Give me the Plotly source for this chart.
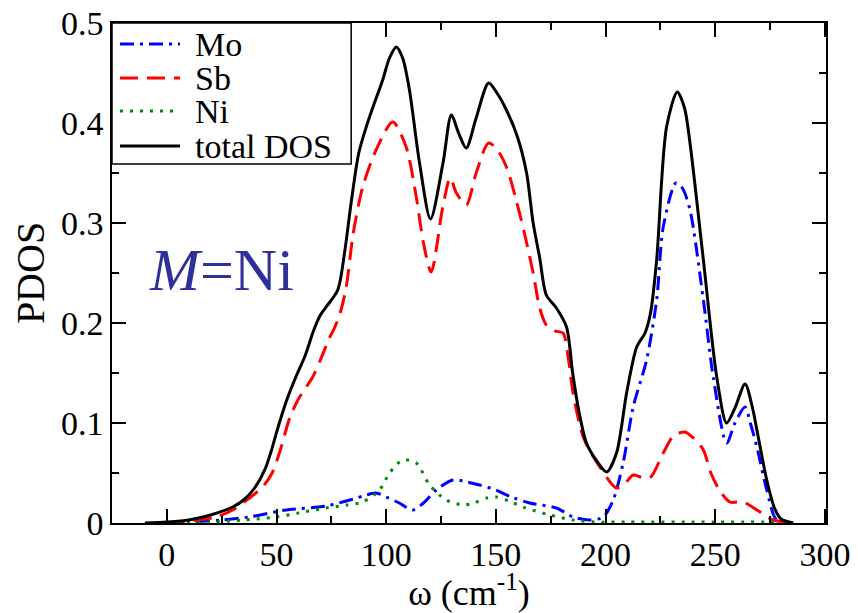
import plotly.graph_objects as go

# ---- data ----
tot_x = [-10, 0, 10, 20, 30, 35, 40, 45, 48, 51, 55, 59, 63, 67, 70, 72.6, 77.9, 81, 84, 87.5,
         90.9, 93.5, 98.4, 101.5, 104.6, 107.5, 110.6, 115.2, 120.2, 125.9, 129.7, 133, 136.5, 141, 146.7,
         150.5, 154.8, 160, 164, 167, 170, 173, 177.6, 182.2, 185, 188, 191.3, 196, 200.5, 205, 209.6, 214.2,
         218, 220.5, 223.3, 227.8, 232.7, 236, 238.5, 244.6, 250.7, 255.2, 259, 263.6, 267, 269, 273.5,
         277, 280, 285.6]
tot_y = [0, 0.001, 0.003, 0.008, 0.016, 0.023, 0.035, 0.055, 0.075, 0.098, 0.125, 0.147, 0.167, 0.193,
         0.208, 0.216, 0.233, 0.27, 0.32, 0.37, 0.396, 0.413, 0.443, 0.465, 0.476, 0.465, 0.433, 0.36, 0.304,
         0.36, 0.408, 0.39, 0.375, 0.405, 0.44, 0.43, 0.413, 0.385, 0.35, 0.30, 0.265, 0.228, 0.215, 0.196,
         0.15, 0.11, 0.08, 0.062, 0.051, 0.07, 0.13, 0.176, 0.19, 0.21, 0.263, 0.396, 0.431, 0.415, 0.38,
         0.263, 0.146, 0.1, 0.115, 0.139, 0.115, 0.093, 0.043, 0.015, 0.004, 0]

sb_x = [0, 10, 22.4, 30, 34.5, 40, 44, 48, 52, 56, 60, 66.5, 70, 74.1, 76.4, 79, 81.7, 85, 89.3, 95.4,
        103, 109.1, 113.7, 117, 120.5, 125.8, 129.2, 132, 136.5, 141, 146.7, 151, 155, 159, 163, 167, 170,
        173, 177, 180.6, 183, 185.2, 190, 197.4, 205, 209, 212.6, 216, 220.2, 226.3, 231, 236.2, 240, 244.6,
        248, 252.2, 256.7, 262.8, 269, 276.5, 285]
sb_y = [0, 0.002, 0.006, 0.013, 0.02, 0.029, 0.037, 0.05, 0.075, 0.105, 0.124, 0.146, 0.163, 0.185, 0.195,
        0.21, 0.235, 0.29, 0.336, 0.373, 0.401, 0.376, 0.326, 0.28, 0.251, 0.316, 0.345, 0.33, 0.318, 0.35,
        0.38, 0.372, 0.355, 0.325, 0.29, 0.25, 0.215, 0.198, 0.192, 0.19, 0.165, 0.13, 0.085, 0.056, 0.035,
        0.04, 0.048, 0.046, 0.045, 0.07, 0.087, 0.091, 0.085, 0.073, 0.05, 0.032, 0.021, 0.021, 0.013,
        0.003, 0]

mo_x = [0, 10, 25, 37.6, 54.3, 72.6, 85, 90.9, 95.4, 100, 106, 112.1, 117, 122.8, 130.4, 137, 142.6, 150,
        157, 165.4, 177.6, 185.2, 192.8, 198.9, 203.5, 208, 212.6, 218.7, 223.3, 226.3, 232.1, 235, 238.5,
        244.6, 249.1, 255.2, 259, 263.6, 266, 269, 273.5, 278, 285]
mo_y = [0, 0.001, 0.003, 0.006, 0.013, 0.017, 0.024, 0.028, 0.03, 0.026, 0.02, 0.013, 0.02, 0.033, 0.043,
        0.041, 0.038, 0.033, 0.026, 0.02, 0.015, 0.006, 0.003, 0.006, 0.023, 0.06, 0.116, 0.163, 0.223,
        0.296, 0.34, 0.335, 0.313, 0.223, 0.146, 0.08, 0.1, 0.116, 0.1, 0.076, 0.033, 0.003, 0]

ni_x = [0, 20, 35, 49.8, 60, 72.6, 82, 89.3, 97, 101.5, 107.6, 113.7, 119.8, 127.4, 135, 140, 145.7, 150.2,
        156, 162.4, 174.6, 185.2, 195, 210, 250, 280]
ni_y = [0, 0.001, 0.003, 0.006, 0.01, 0.015, 0.018, 0.021, 0.033, 0.05, 0.063, 0.06, 0.038, 0.023, 0.018,
        0.02, 0.025, 0.026, 0.022, 0.016, 0.008, 0.003, 0.001, 0.001, 0.001, 0.001]

series_names = ["Mo", "Sb", "Ni", "total DOS"]
x_ticks = [0, 50, 100, 150, 200, 250, 300]
y_ticks = [0, 0.1, 0.2, 0.3, 0.4, 0.5]
y_tick_labels = ["0", "0.1", "0.2", "0.3", "0.4", "0.5"]

SERIF = "Liberation Serif, Times New Roman, serif"
colors = ["#0000ff", "#ff0000", "#008c00", "#000000"]
dashes = ["14px,6px,3px,6px", "18px,9px", "3px,7px", "solid"]

fig = go.Figure()
for name, xs, ys, c, d in zip(series_names, [mo_x, sb_x, ni_x, tot_x], [mo_y, sb_y, ni_y, tot_y], colors, dashes):
    fig.add_trace(go.Scatter(x=xs, y=ys, name=name, mode="lines", showlegend=False,
                             line=dict(color=c, width=3, dash=d, shape="spline", smoothing=0.8)))

axis_common = dict(showline=True, linecolor="black", linewidth=1.5, mirror="allticks",
                   ticks="inside", ticklen=14, tickwidth=1.5, tickcolor="black",
                   showgrid=False, zeroline=False, automargin=False,
                   tickfont=dict(family=SERIF, size=34, color="black"))

fig.update_xaxes(range=[-25, 300.5], tickvals=x_ticks,
                 minor=dict(ticks="inside", ticklen=7, tickwidth=1.5, tickcolor="black", dtick=25, tick0=0, showgrid=False),
                 title=dict(text="ω (cm<sup>-1</sup>)", font=dict(family=SERIF, size=36, color="black"), standoff=4),
                 **axis_common)
fig.update_yaxes(range=[0, 0.5], tickvals=y_ticks, ticktext=y_tick_labels,
                 minor=dict(ticks="inside", ticklen=7, tickwidth=1.5, tickcolor="black", dtick=0.05, tick0=0, showgrid=False),
                 title=dict(text="PDOS", font=dict(family=SERIF, size=40, color="black"), standoff=4),
                 **axis_common)

# legend box (drawn manually to match the compact original layout)
shapes = [dict(type="rect", xref="paper", yref="paper", x0=0, x1=0.335, y0=0.718, y1=1.0,
               line=dict(color="black", width=1.5), fillcolor="white", layer="above")]
annotations = []
row_y = [0.958, 0.89, 0.824, 0.754]
for name, c, d, ry in zip(series_names, colors, dashes, row_y):
    shapes.append(dict(type="line", xref="paper", yref="paper", x0=0.0112, x1=0.0952, y0=ry, y1=ry,
                       line=dict(color=c, width=3, dash=d), layer="above"))
    annotations.append(dict(xref="paper", yref="paper", x=0.1134, y=ry, xanchor="left", yanchor="middle",
                            text=name, showarrow=False,
                            font=dict(family=SERIF, size=34, color="black")))

annotations.append(dict(xref="paper", yref="paper", x=0.154, y=0.506, xanchor="center", yanchor="middle",
                        text="<i>M</i>=Ni", showarrow=False,
                        font=dict(family=SERIF, size=60, color="#30309a")))

fig.update_layout(
    width=858, height=613,
    margin=dict(l=112, r=32, t=23, b=90),
    paper_bgcolor="white", plot_bgcolor="white",
    showlegend=False,
    shapes=shapes, annotations=annotations,
)

fig.write_html("out.html", config={"displayModeBar": False},
               post_script="document.body.style.margin='0';document.body.style.overflow='hidden';")
